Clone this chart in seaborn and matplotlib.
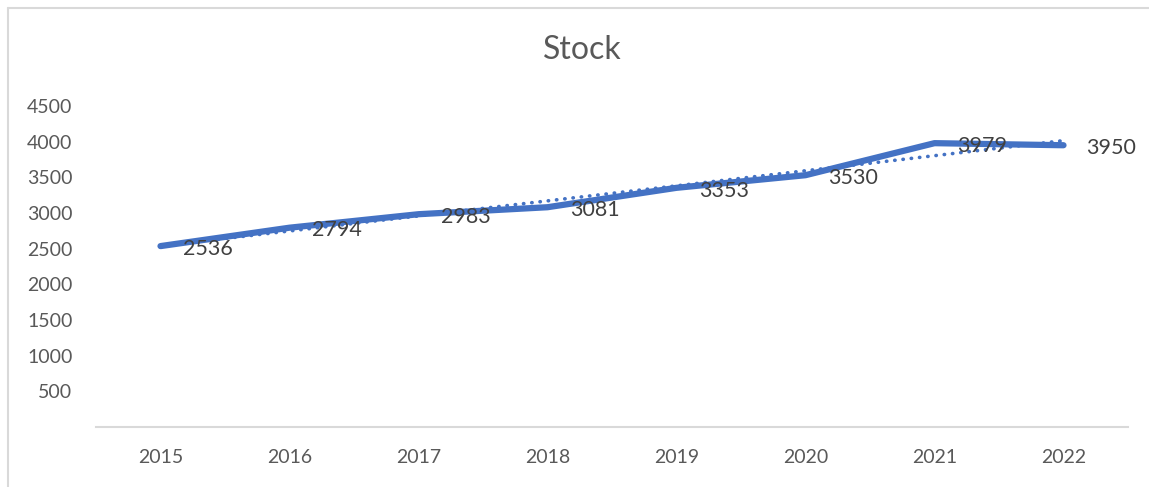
import numpy as np
import pandas as pd
import matplotlib
matplotlib.use("Agg")
import matplotlib.pyplot as plt
from matplotlib.lines import Line2D
import seaborn as sns

# chart data
years = ["2015", "2016", "2017", "2018", "2019", "2020", "2021", "2022"]
stock = [2536, 2794, 2983, 3081, 3353, 3530, 3979, 3950]
y_ticks = [500, 1000, 1500, 2000, 2500, 3000, 3500, 4000, 4500]

LINE_COLOR = "#4472C4"
AXIS_TEXT = "#595959"
LABEL_TEXT = "#404040"

sns.set_theme(style="white")
plt.rcParams["font.family"] = ["Lato", "DejaVu Sans"]

df = pd.DataFrame({"Year": years, "Stock": stock})
df["idx"] = np.arange(len(years))

fig = plt.figure(figsize=(11.49, 4.87), dpi=100)
ax = fig.add_axes([96 / 1149, 1 - 427 / 487, 1032 / 1149, 321 / 487])

# main series
sns.lineplot(data=df, x="idx", y="Stock", ax=ax, color=LINE_COLOR, linewidth=4.5,
             solid_capstyle="round", solid_joinstyle="round", zorder=3)

# linear trendline (dotted)
coef = np.polyfit(df["idx"], df["Stock"], 1)
trend = np.polyval(coef, df["idx"])
ax.plot(df["idx"], trend, color=LINE_COLOR, linewidth=2.6, linestyle=(0, (0.1, 2.2)),
        dash_capstyle="round", zorder=2)

# data labels to the right of each point
for i, v in zip(df["idx"], df["Stock"]):
    ax.annotate(str(v), (i, v), xytext=(16, -2), textcoords="offset points",
                ha="left", va="center", fontsize=15.5, color=LABEL_TEXT, zorder=4)

ax.set_xlim(-0.5, len(years) - 0.5)
ax.set_ylim(0, 4500)
ax.set_xticks(df["idx"])
ax.set_xticklabels(years)
ax.set_yticks(y_ticks)
ax.set_yticklabels([str(t) for t in y_ticks])
ax.tick_params(axis="both", length=0, labelsize=14, labelcolor=AXIS_TEXT)
ax.tick_params(axis="x", pad=16)
ax.tick_params(axis="y", pad=17)
ax.set_xlabel("")
ax.set_ylabel("")

for side in ["top", "right", "left"]:
    ax.spines[side].set_visible(False)
ax.spines["bottom"].set_color("#D9D9D9")
ax.spines["bottom"].set_linewidth(1.5)

fig.text(582 / 1149, 1 - 50 / 487, "Stock", ha="center", va="center",
         fontsize=23, color=AXIS_TEXT)

# chart area border (left and top edges visible)
fig.add_artist(Line2D([7.5 / 1149, 7.5 / 1149], [0, 1 - 7.5 / 487],
                      transform=fig.transFigure, color="#D9D9D9", linewidth=1.5))
fig.add_artist(Line2D([7.5 / 1149, 1], [1 - 7.5 / 487, 1 - 7.5 / 487],
                      transform=fig.transFigure, color="#D9D9D9", linewidth=1.5))

fig.savefig("out.png", dpi=100, facecolor="white")
